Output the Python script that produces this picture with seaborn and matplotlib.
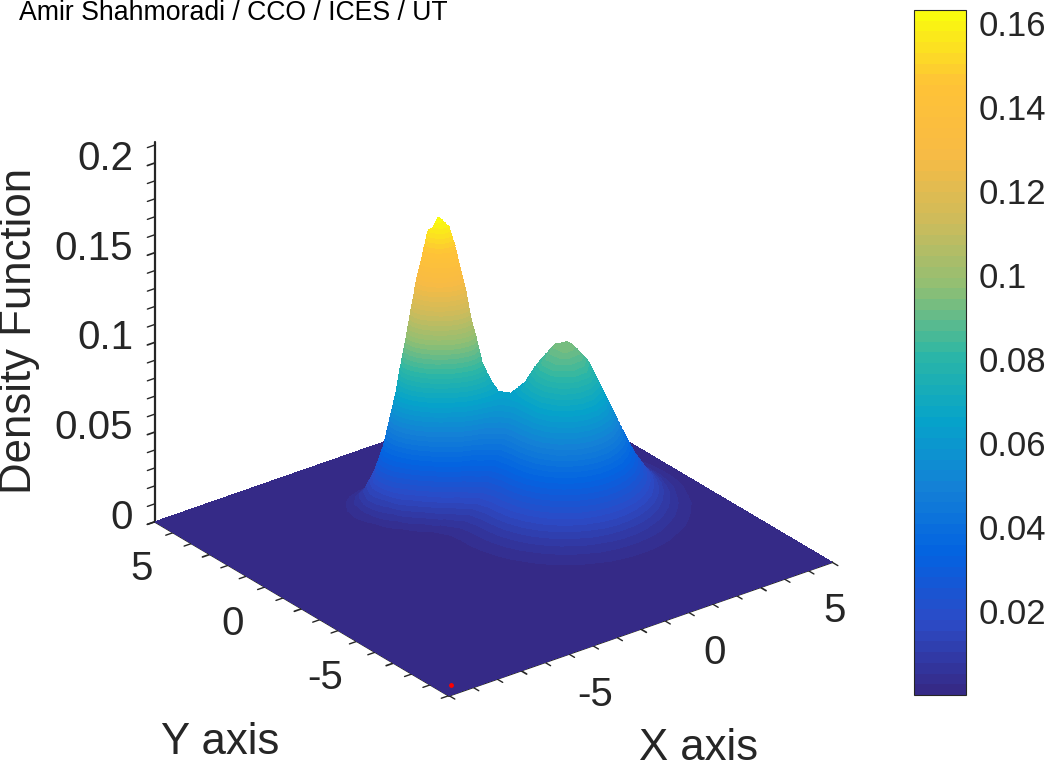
import numpy as np
import matplotlib
matplotlib.use("Agg")
import matplotlib.pyplot as plt
from matplotlib.cm import ScalarMappable
from matplotlib.colors import ListedColormap, Normalize
from matplotlib.ticker import MultipleLocator
from mpl_toolkits.mplot3d import proj3d
import seaborn as sns

# densidade, em unidades de 1e-4
x_values = [-4, -3.5, -3, -2.5, -2, -1.5, -1.25, -1, -0.75, -0.5, -0.25, 0, 0.25, 0.5, 0.75, 1, 1.25, 1.5,
            2, 2.5, 3, 3.5, 4, 4.5, 5, 5.5, 6, 6.5, 7, 7.5]
y_values = [-4.5, -4, -3.5, -3, -2.5, -2, -1.5, -1, -0.5, 0, 0.5, 1, 1.5, 2, 2.25, 2.5, 2.75, 3, 3.25, 3.5, 3.75, 4, 4.5, 5, 5.5, 6]
density = [
    [0, 0, 0, 0, 0, 0, 0, 0, 0, 0, 1, 1, 1, 2, 2, 3, 4, 4, 6, 7, 8, 8, 7, 5, 4, 3, 2, 1, 0, 0],
    [0, 0, 0, 0, 0, 0, 0, 1, 1, 1, 2, 2, 3, 4, 6, 7, 9, 11, 15, 18, 20, 20, 18, 14, 10, 7, 4, 2, 1, 0],
    [0, 0, 0, 0, 0, 0, 1, 1, 2, 3, 4, 6, 8, 10, 13, 17, 21, 26, 35, 42, 47, 46, 41, 33, 24, 16, 9, 5, 2, 1],
    [0, 0, 0, 0, 0, 1, 2, 2, 4, 6, 8, 12, 16, 22, 28, 36, 44, 54, 73, 89, 97, 96, 86, 69, 50, 33, 19, 10, 5, 2],
    [0, 0, 0, 0, 1, 2, 3, 5, 7, 11, 16, 22, 30, 41, 53, 68, 84, 102, 137, 167, 184, 182, 162, 130, 94, 61, 36, 19, 9, 4],
    [0, 0, 0, 0, 1, 3, 5, 8, 12, 18, 26, 37, 51, 69, 90, 115, 143, 173, 234, 285, 313, 309, 276, 222, 161, 105, 61, 33, 16, 7],
    [0, 0, 0, 1, 2, 5, 8, 12, 19, 28, 41, 57, 79, 106, 138, 177, 219, 265, 358, 437, 479, 474, 423, 340, 246, 160, 94, 50, 24, 10],
    [0, 0, 0, 1, 2, 7, 11, 17, 26, 39, 56, 79, 109, 146, 191, 244, 302, 366, 495, 603, 662, 655, 584, 470, 340, 221, 130, 69, 33, 14],
    [0, 0, 0, 1, 3, 8, 13, 21, 32, 48, 70, 99, 136, 182, 238, 304, 376, 456, 616, 751, 824, 816, 727, 585, 424, 276, 162, 86, 41, 18],
    [0, 0, 0, 1, 3, 9, 15, 24, 36, 54, 78, 110, 153, 205, 268, 342, 424, 513, 693, 843, 924, 914, 815, 655, 475, 309, 181, 96, 46, 20],
    [0, 0, 0, 1, 3, 9, 15, 24, 38, 56, 82, 117, 162, 217, 283, 359, 443, 532, 708, 856, 936, 925, 824, 663, 480, 312, 184, 97, 47, 20],
    [0, 0, 0, 1, 3, 10, 16, 27, 43, 66, 100, 143, 196, 258, 326, 396, 467, 558, 695, 801, 856, 843, 750, 603, 437, 284, 167, 88, 42, 18],
    [0, 0, 0, 1, 4, 15, 29, 53, 89, 142, 210, 288, 371, 447, 507, 567, 602, 627, 659, 689, 706, 692, 616, 495, 359, 233, 137, 73, 35, 15],
    [0, 0, 0, 2, 11, 49, 95, 168, 274, 411, 564, 712, 827, 888, 887, 833, 768, 695, 577, 533, 534, 512, 455, 366, 265, 173, 101, 54, 26, 11],
    [0, 0, 0, 3, 21, 91, 169, 289, 452, 647, 849, 1022, 1131, 1153, 1089, 962, 809, 690, 510, 450, 444, 423, 376, 303, 219, 143, 84, 44, 21, 9],
    [0, 0, 1, 6, 37, 153, 276, 451, 675, 926, 1162, 1336, 1410, 1368, 1226, 1026, 812, 645, 430, 365, 358, 341, 303, 244, 177, 115, 68, 36, 17, 7],
    [0, 0, 1, 11, 62, 236, 404, 634, 909, 1192, 1430, 1571, 1582, 1465, 1250, 993, 747, 560, 340, 285, 274, 267, 238, 191, 139, 90, 53, 28, 13, 6],
    [0, 0, 3, 18, 92, 324, 532, 798, 1095, 1373, 1575, 1631, 1592, 1407, 1147, 869, 623, 436, 245, 206, 209, 204, 182, 146, 106, 69, 41, 21, 10, 4],
    [0, 0, 4, 27, 124, 400, 627, 898, 1178, 1414, 1551, 1557, 1432, 1210, 942, 684, 470, 318, 176, 151, 155, 152, 135, 109, 79, 51, 30, 16, 8, 3],
    [0, 1, 6, 35, 148, 438, 657, 902, 1131, 1298, 1362, 1308, 1151, 931, 694, 483, 321, 212, 119, 108, 113, 110, 98, 79, 57, 37, 22, 12, 6, 2],
    [0, 1, 7, 41, 158, 429, 615, 807, 969, 1064, 1068, 980, 826, 639, 458, 307, 198, 131, 78, 75, 79, 78, 70, 56, 41, 26, 16, 8, 4, 2],
    [0, 1, 8, 43, 151, 374, 513, 644, 740, 777, 747, 656, 529, 393, 270, 175, 112, 74, 50, 51, 54, 54, 48, 39, 28, 18, 11, 6, 3, 1],
    [0, 1, 8, 33, 97, 201, 253, 291, 306, 294, 258, 208, 155, 106, 69, 44, 29, 21, 19, 22, 24, 24, 21, 17, 12, 8, 5, 2, 1, 1],
    [0, 1, 5, 16, 39, 68, 79, 83, 80, 70, 57, 42, 30, 19, 13, 8, 6, 6, 7, 9, 9, 9, 8, 7, 5, 3, 2, 1, 0, 0],
    [0, 0, 2, 5, 10, 15, 16, 15, 13, 11, 8, 5, 3, 3, 2, 1, 2, 2, 3, 3, 3, 3, 3, 2, 2, 1, 1, 0, 0, 0],
    [0, 0, 0, 1, 2, 2, 2, 2, 1, 1, 1, 0, 0, 0, 0, 0, 0, 0, 1, 1, 1, 1, 1, 0, 0, 0, 0, 0, 0, 0],
]
axis_limit = 8
z_top = 0.2118
xy_ticks = [-5, 0, 5]
xy_labels = ["-5", "0", "5"]
z_ticks = [0, 0.05, 0.1, 0.15, 0.2]
z_labels = ["0", "0.05", "0.1", "0.15", "0.2"]
color_ticks = [0.02, 0.04, 0.06, 0.08, 0.1, 0.12, 0.14, 0.16]
color_labels = ["0.02", "0.04", "0.06", "0.08", "0.1", "0.12", "0.14", "0.16"]
color_max = 0.1631
marker_x, marker_y, marker_z = [-7.9], [-8], [0.0055]

sns.set_theme(style="white")
plt.rcParams["font.family"] = ["Liberation Sans", "DejaVu Sans"]
text_color = "#262626"

# parula, 64 cores
anchors = [(0.2081, 0.1663, 0.5292), (0.1707, 0.2919, 0.7792), (0.0117, 0.3875, 0.8820),
           (0.0779, 0.5040, 0.8384), (0.0231, 0.6418, 0.7913), (0.1801, 0.7177, 0.6424),
           (0.5709, 0.7485, 0.4494), (0.8185, 0.7327, 0.3498), (0.9739, 0.7314, 0.2666),
           (0.9990, 0.7653, 0.2164), (0.9763, 0.9831, 0.0538)]
palette = sns.blend_palette(anchors, n_colors=64)

xs = np.array([-axis_limit] + x_values + [axis_limit])
ys = np.array([-axis_limit] + y_values + [axis_limit])
zs = np.pad(np.array(density) / 1e4, 1)
X, Y = np.meshgrid(xs, ys)

fig = plt.figure(figsize=(10.49, 7.69), dpi=100)
ax = fig.add_axes([92.2 / 1049, 15.75 / 769, 781.5 / 1049, 781.5 / 769], projection="3d", proj_type="ortho", computed_zorder=False)
ax.view_init(elev=27, azim=232.5)
ax.set_box_aspect((484, 484, 427.5))

# camadas empilhadas, da mais baixa para a mais alta
layers = np.linspace(0, color_max, 193)[:-1]
for i, level in enumerate(layers):
    color = palette[min(int(i / 3), 63)]
    ax.contourf(X, Y, zs, levels=[level if i else -1, 1], colors=[color], offset=level, zorder=i + 1)

ax.scatter(marker_x, marker_y, marker_z, color="red", s=6, zorder=300, depthshade=False)

ax.set_xlim(-axis_limit, axis_limit)
ax.set_ylim(-axis_limit, axis_limit)
ax.set_zlim(0, z_top)
ax.set_xticks(xy_ticks)
ax.set_xticklabels([""] * len(xy_ticks))
ax.set_yticks(xy_ticks)
ax.set_yticklabels([""] * len(xy_ticks))
ax.set_zticks(z_ticks)
ax.set_zticklabels([""] * len(z_ticks))
ax.xaxis.set_minor_locator(MultipleLocator(1))
ax.yaxis.set_minor_locator(MultipleLocator(1))
ax.zaxis.set_minor_locator(MultipleLocator(0.01))
ax.grid(False)
for axis in (ax.xaxis, ax.yaxis, ax.zaxis):
    axis.set_pane_color((1, 1, 1, 0))
    axis.line.set_color(text_color)
    axis.line.set_linewidth(1.6)
    # nesta vista o lado "inward" e o que fica fora da caixa
    axis._axinfo["tick"]["inward_factor"] = 0.25
    axis._axinfo["tick"]["outward_factor"] = 0
ax.tick_params(axis="both", which="both", colors=text_color, width=1.2)
ax.tick_params(axis="z", which="both", colors=text_color, width=1.2)
ax.zaxis.set_ticks_position("upper")


def tick_label(x, y, z, label, offset, ha="center"):
    # projeta o ponto do eixo e desloca o texto em pixels
    px, py, _ = proj3d.proj_transform(x, y, z, ax.get_proj())
    ax.annotate(label, (px, py), xytext=offset, textcoords="offset pixels", fontsize=29,
                color=text_color, ha=ha, va="center", annotation_clip=False, zorder=400)


for value, label in zip(xy_ticks, xy_labels):
    tick_label(value, -axis_limit, 0, label, (74, -24))
    tick_label(-axis_limit, value, 0, label, (-69, -15))
for value, label in zip(z_ticks, z_labels):
    tick_label(-axis_limit, axis_limit, value, label, (-22, 4), ha="right")

fig.text(220 / 1049, 1 - 742 / 769, "Y axis", fontsize=31.5, color=text_color, ha="center", va="center")
fig.text(699 / 1049, 1 - 749 / 769, "X axis", fontsize=31.5, color=text_color, ha="center", va="center")
fig.text(20 / 1049, 1 - 331 / 769, "Density Function", fontsize=31.5, color=text_color, rotation=90, ha="center", va="center")
fig.text(19 / 1049, 1 - 0.5 / 769, "Amir Shahmoradi / CCO / ICES / UT", fontsize=19.2, color="black", ha="left", va="top")

cax = fig.add_axes([914 / 1049, 74 / 769, 52 / 1049, 685 / 769])
cbar = fig.colorbar(ScalarMappable(Normalize(0, color_max), ListedColormap(palette)), cax=cax, ticks=color_ticks)
cbar.ax.set_yticklabels(color_labels)
cbar.ax.tick_params(direction="in", length=5, width=0.6, labelsize=25, labelcolor=text_color, color=text_color, pad=9, right=True)
cbar.outline.set_edgecolor(text_color)
cbar.outline.set_linewidth(0.8)

plt.savefig("out.png", dpi=100)
